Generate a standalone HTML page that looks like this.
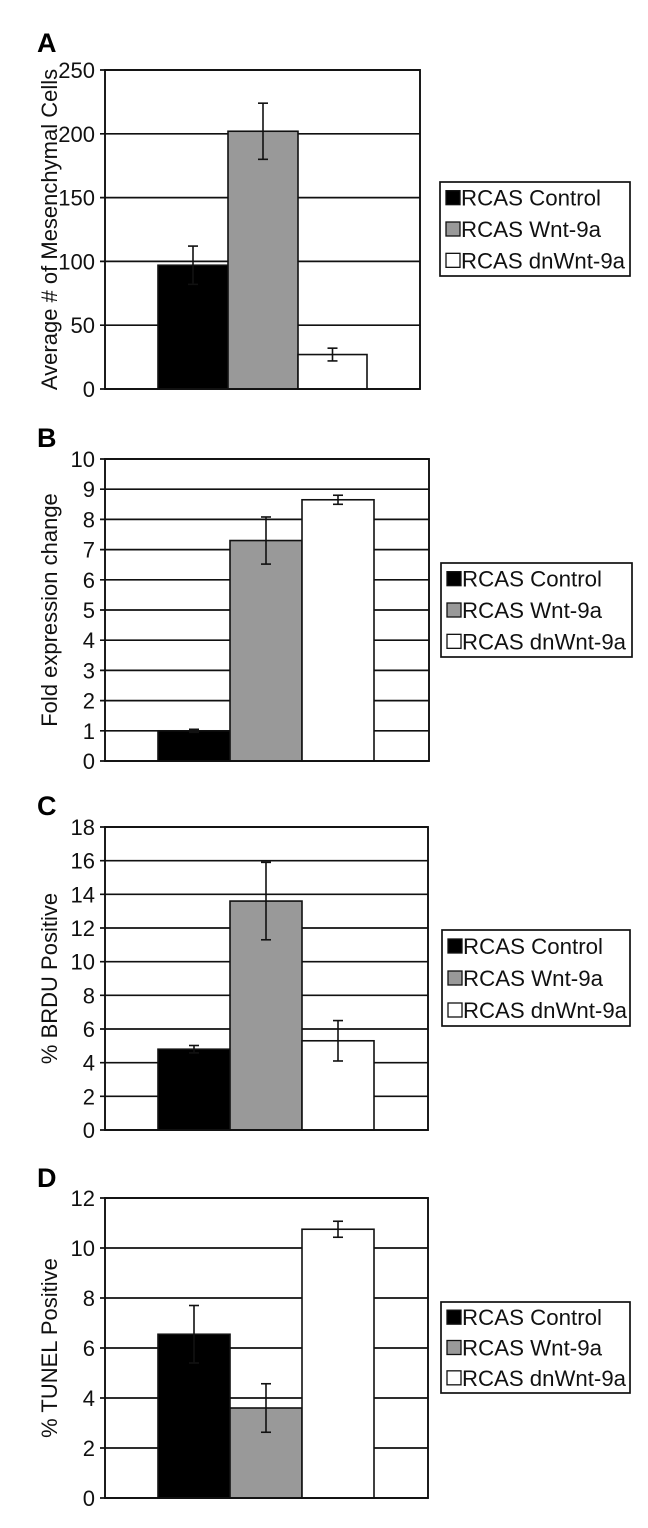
<!DOCTYPE html>
<html><head><meta charset="utf-8">
<style>
html,body{margin:0;padding:0;background:#fff;}
svg{display:block;font-family:"Liberation Sans",Arial,sans-serif;}
</style></head>
<body>
<svg id="fig" width="648" height="1528" viewBox="0 0 648 1528" xmlns="http://www.w3.org/2000/svg"></svg>
<script>
// ---- data ----
const categories = ["RCAS Control","RCAS Wnt-9a","RCAS dnWnt-9a"];
const barFills = ["#000000","#999999","#ffffff"];
const panelLetters = ["A","B","C","D"];
const axisTitles = ["Average # of Mesenchymal Cells","Fold expression change","% BRDU Positive","% TUNEL Positive"];
const yMaxA = 250, yStepA = 50;
const valuesA = [97, 202, 27];
const errorsA = [15, 22, 5];
const yMaxB = 10, yStepB = 1;
const valuesB = [1.0, 7.3, 8.65];
const errorsB = [0.05, 0.78, 0.15];
const yMaxC = 18, yStepC = 2;
const valuesC = [4.8, 13.6, 5.3];
const errorsC = [0.22, 2.3, 1.2];
const yMaxD = 12, yStepD = 2;
const valuesD = [6.55, 3.6, 10.75];
const errorsD = [1.15, 0.97, 0.32];

// ---- layout ----
const layouts = [
  {top:70, bottom:389, left:105, right:420, bars:[158,228,298,367], leg:[440,182,630,276], letterY:52},
  {top:459, bottom:761, left:105, right:429, bars:[158,230,302,374], leg:[441,563,632,657], letterY:447},
  {top:827, bottom:1130, left:105, right:428, bars:[158,230,302,374], leg:[442,930,630,1026], letterY:815},
  {top:1198, bottom:1498, left:105, right:428, bars:[158,230,302,374], leg:[441,1302,630,1393], letterY:1187}
];
const legendTextLen = [140, 140, 164];
const panelData = [
  {max:yMaxA, step:yStepA, vals:valuesA, errs:errorsA},
  {max:yMaxB, step:yStepB, vals:valuesB, errs:errorsB},
  {max:yMaxC, step:yStepC, vals:valuesC, errs:errorsC},
  {max:yMaxD, step:yStepD, vals:valuesD, errs:errorsD}
];
const NS = "http://www.w3.org/2000/svg";
const svg = document.getElementById("fig");
function mk(tag, attrs, parent){
  const e = document.createElementNS(NS, tag);
  for (const k in attrs) e.setAttribute(k, attrs[k]);
  (parent||svg).appendChild(e);
  return e;
}
panelData.forEach((pd, p) => {
  const L = layouts[p];
  const g = mk("g", {});
  
  
  const y = v => L.bottom - (v / pd.max) * (L.bottom - L.top);
  const lt = mk("text", {x:37, y:L.letterY, "font-size":27, "font-weight":"bold"}, g);
  
  
  lt.textContent = panelLetters[p];
  mk("rect", {x:L.left, y:L.top, width:L.right-L.left, height:L.bottom-L.top, fill:"#fff"}, g);
  for (let v = 0; v <= pd.max + 1e-9; v += pd.step) {
    const yy = y(v);
    const gl = mk("line", {x1:L.left-5, x2:L.right, y1:yy, y2:yy, stroke:"#111", "stroke-width":1.7}, g);
    
    
    const t = mk("text", {x:95, y:yy+8, "font-size":22, "text-anchor":"end", fill:"#111"}, g);
    
    
    t.textContent = String(Math.round(v*100)/100);
  }
  pd.vals.forEach((v, i) => {
    const x0 = L.bars[i], x1 = L.bars[i+1];
    const b = mk("rect", {x:x0, y:y(v), width:x1-x0, height:L.bottom-y(v), fill:barFills[i], stroke:"#111", "stroke-width":1.6}, g);
    
    
  });
  pd.vals.forEach((v, i) => {
    const cx = (L.bars[i] + L.bars[i+1]) / 2;
    const yt = y(v + pd.errs[i]), yb = y(v - pd.errs[i]);
    const eg = mk("g", {stroke:"#111", "stroke-width":1.6}, g);
    
    
    mk("line", {x1:cx, x2:cx, y1:yt, y2:yb}, eg);
    mk("line", {x1:cx-5, x2:cx+5, y1:yt, y2:yt}, eg);
    mk("line", {x1:cx-5, x2:cx+5, y1:yb, y2:yb}, eg);
  });
  const fr = mk("rect", {x:L.left, y:L.top, width:L.right-L.left, height:L.bottom-L.top, fill:"none", stroke:"#111", "stroke-width":1.9}, g);
  
  
  const cy = (L.top + L.bottom) / 2;
  const at = mk("text", {x:0, y:0, "font-size":22, "text-anchor":"middle", transform:`translate(57,${cy}) rotate(-90)`, fill:"#111"}, g);
  
  
  at.textContent = axisTitles[p];
  const [lx0, ly0, lx1, ly1] = L.leg;
  const lg = mk("g", {}, g);
  
  
  mk("rect", {x:lx0, y:ly0, width:lx1-lx0, height:ly1-ly0, fill:"#fff", stroke:"#111", "stroke-width":1.7}, lg);
  const rowH = (ly1 - ly0) / 3;
  categories.forEach((c, i) => {
    const ry = ly0 + rowH * (i + 0.5);
    const e = mk("g", {}, lg);
    
    
    mk("rect", {x:lx0+6, y:ry-7, width:14, height:14, fill:barFills[i], stroke:"#111", "stroke-width":1.3}, e);
    const t = mk("text", {x:lx0+21, y:ry+8, "font-size":22, fill:"#111", textLength:legendTextLen[i], lengthAdjust:"spacingAndGlyphs"}, e);
    t.textContent = c;
  });
});
</script>
</body></html>
